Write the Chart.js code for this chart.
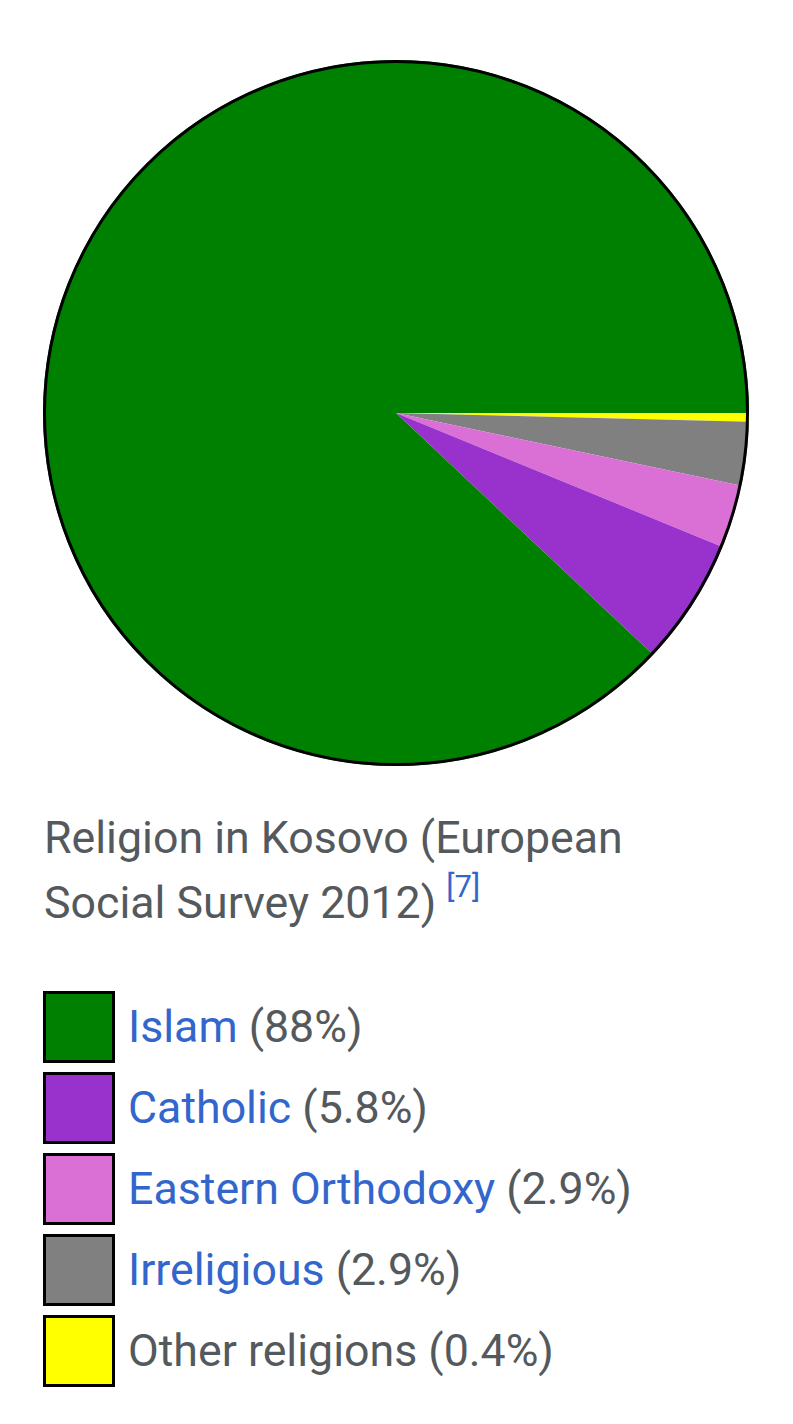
<!DOCTYPE html>
<html>
<head>
<meta charset="utf-8">
<script src="https://cdn.jsdelivr.net/npm/chart.js@4/dist/chart.umd.min.js"></script>
<style>
    body { margin: 0; background: #fff; width: 793px; height: 1424px; position: relative; overflow: hidden;
           font-family: Roboto, 'Noto Sans', Arial, sans-serif; color: #54595d; }
    #pieBox { position: absolute; left: 43px; top: 60px; width: 706px; height: 706px; }
    #caption { position: absolute; left: 44px; top: 806px; width: 640px; font-size: 44.7px; line-height: 65px; }
    #caption sup { color: #3366cc; font-size: 31px; vertical-align: 0; position: relative; top: -21px; margin-left: 10px; }
    #legend { position: absolute; left: 43px; top: 991px; }
    .row { display: flex; align-items: center; height: 81px; }
    .row .swatch { width: 72px; height: 72px; box-sizing: border-box; border: 3px solid #000; align-self: flex-start; }
    .row .txt { margin-left: 13px; font-size: 44.7px; line-height: 72px; align-self: flex-start; white-space: nowrap; }
    .row .name { color: #3366cc; }
</style>
</head>
<body>
<div id="pieBox"><canvas id="religionPie"></canvas></div>
<div id="caption">Religion in Kosovo (European Social Survey 2012)<sup>[7]</sup></div>
<div id="legend"></div>

<script>
// Religion in Kosovo (European Social Survey 2012)
// order = drawing order, clockwise from 3 o'clock
const labels = ['Other religions', 'Irreligious', 'Eastern Orthodoxy', 'Catholic', 'Islam'];
const values = [0.4, 2.9, 2.9, 5.8, 88];
const colors = ['#ffff00', '#808080', '#da70d6', '#9932cc', '#008000'];
const linked = [false, true, true, true, true];

// legend is listed the other way round (largest first)
const legendOrder = [4, 3, 2, 1, 0];

// outer black ring around the whole pie (no lines between slices)
const outerRing = {
    id: 'outerRing',
    afterDatasetsDraw(chart) {
        const arc = chart.getDatasetMeta(0).data[0];
        if (!arc) return;
        const ctx = chart.ctx;
        ctx.save();
        ctx.beginPath();
        ctx.arc(arc.x, arc.y, arc.outerRadius - 1.5, 0, Math.PI * 2);
        ctx.lineWidth = 3;
        ctx.strokeStyle = '#000';
        ctx.stroke();
        ctx.restore();
    }
};

new Chart(document.getElementById('religionPie'), {
    type: 'pie',
    data: {
        labels: labels,
        datasets: [{
            data: values,
            backgroundColor: colors,
            borderWidth: 0
        }]
    },
    options: {
        responsive: true,
        maintainAspectRatio: false,
        animation: false,
        rotation: 90,
        layout: { padding: 0 },
        plugins: {
            legend: { display: false },
            tooltip: { enabled: false }
        }
    },
    plugins: [outerRing]
});

// html legend
const legendEl = document.getElementById('legend');
legendOrder.forEach(i => {
    const row = document.createElement('div');
    row.className = 'row';
    const sw = document.createElement('div');
    sw.className = 'swatch';
    sw.style.background = colors[i];
    const txt = document.createElement('div');
    txt.className = 'txt';
    const nm = document.createElement('span');
    if (linked[i]) nm.className = 'name';
    nm.textContent = labels[i];
    txt.appendChild(nm);
    txt.appendChild(document.createTextNode(' (' + values[i] + '%)'));
    row.appendChild(sw);
    row.appendChild(txt);
    legendEl.appendChild(row);
});
</script>
</body>
</html>
